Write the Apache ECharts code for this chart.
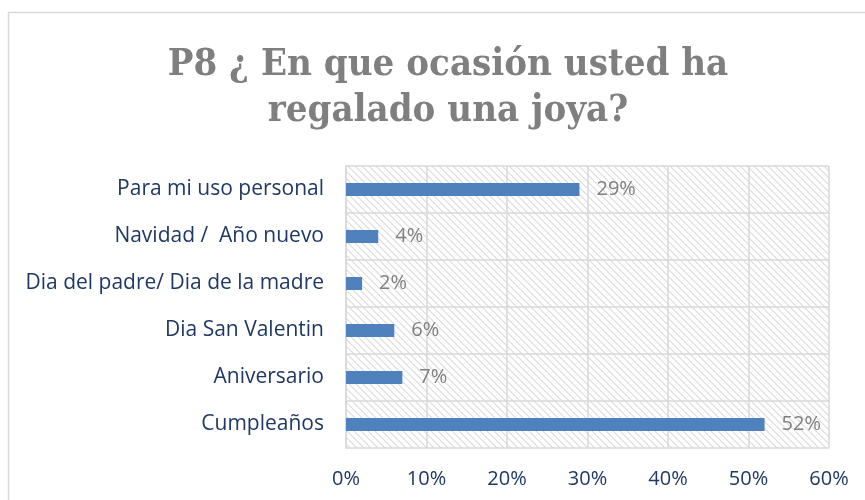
<!DOCTYPE html>
<html>
<head>
<meta charset="utf-8">
<script src="https://cdn.jsdelivr.net/npm/echarts@6/dist/echarts.min.js"></script>
<style>
html,body{margin:0;padding:0;background:#fff;}
#main{width:865px;height:500px;}
</style>
</head>
<body>
<div id="main"></div>
<script>
var titleText = 'P8 ¿ En que ocasión usted ha\nregalado una joya?';
var categories = ['Para mi uso personal', 'Navidad /  Año nuevo', 'Dia del padre/ Dia de la madre', 'Dia San Valentin', 'Aniversario', 'Cumpleaños'];
var values = [29, 4, 2, 6, 7, 52];
var xTicks = [0, 10, 20, 30, 40, 50, 60];

// fondo rayado del area de grafico
var t = 7;
var tile = document.createElement('canvas');
tile.width = t; tile.height = t;
var ctx = tile.getContext('2d');
ctx.strokeStyle = '#dadada';
ctx.lineWidth = 1.1;
ctx.beginPath();
ctx.moveTo(0, 0); ctx.lineTo(t, t);
ctx.moveTo(-t, 0); ctx.lineTo(t, 2 * t);
ctx.moveTo(0, -t); ctx.lineTo(2 * t, t);
ctx.stroke();

var myChart = echarts.init(document.getElementById('main'));
var option = {
    backgroundColor: '#fff',
    animation: false,
    title: {
        text: titleText,
        left: 443,
        top: 37,
        textAlign: 'center',
        textStyle: {
            fontFamily: 'DejaVu Serif Condensed',
            fontWeight: 'bold',
            fontSize: 38,
            lineHeight: 46,
            color: '#7f7f7f'
        }
    },
    graphic: [{
        type: 'rect',
        shape: {x: 8.5, y: 12.5, width: 900, height: 600},
        style: {fill: 'none', stroke: '#d9d9d9', lineWidth: 1.5},
        silent: true
    }],
    grid: {
        left: 346,
        right: 36,
        top: 166,
        bottom: 52,
        show: true,
        borderWidth: 0,
        backgroundColor: {image: tile, repeat: 'repeat'}
    },
    xAxis: {
        type: 'value',
        min: xTicks[0],
        max: xTicks[xTicks.length - 1],
        interval: 10,
        axisLine: {show: false},
        axisTick: {show: false},
        splitLine: {show: true, lineStyle: {color: '#d9d9d9', width: 1.5}},
        axisLabel: {
            margin: 21,
            color: '#1f3864',
            fontFamily: 'Open Sans',
            fontSize: 20,
            formatter: '{value}%'
        }
    },
    yAxis: {
        type: 'category',
        inverse: true,
        data: categories,
        axisLine: {show: true, lineStyle: {color: '#d9d9d9', width: 1.5}},
        axisTick: {show: false},
        splitLine: {show: true, lineStyle: {color: '#d9d9d9', width: 1.5}},
        axisLabel: {
            margin: 22,
            color: '#1f3864',
            fontFamily: 'Open Sans',
            fontSize: 21
        }
    },
    series: [{
        type: 'bar',
        data: values,
        barWidth: 13,
        itemStyle: {color: '#4f81bd'},
        label: {
            show: true,
            position: 'right',
            distance: 17,
            color: '#808080',
            fontFamily: 'Open Sans',
            fontSize: 20,
            formatter: '{c}%'
        }
    }]
};
myChart.setOption(option);
</script>
</body>
</html>
